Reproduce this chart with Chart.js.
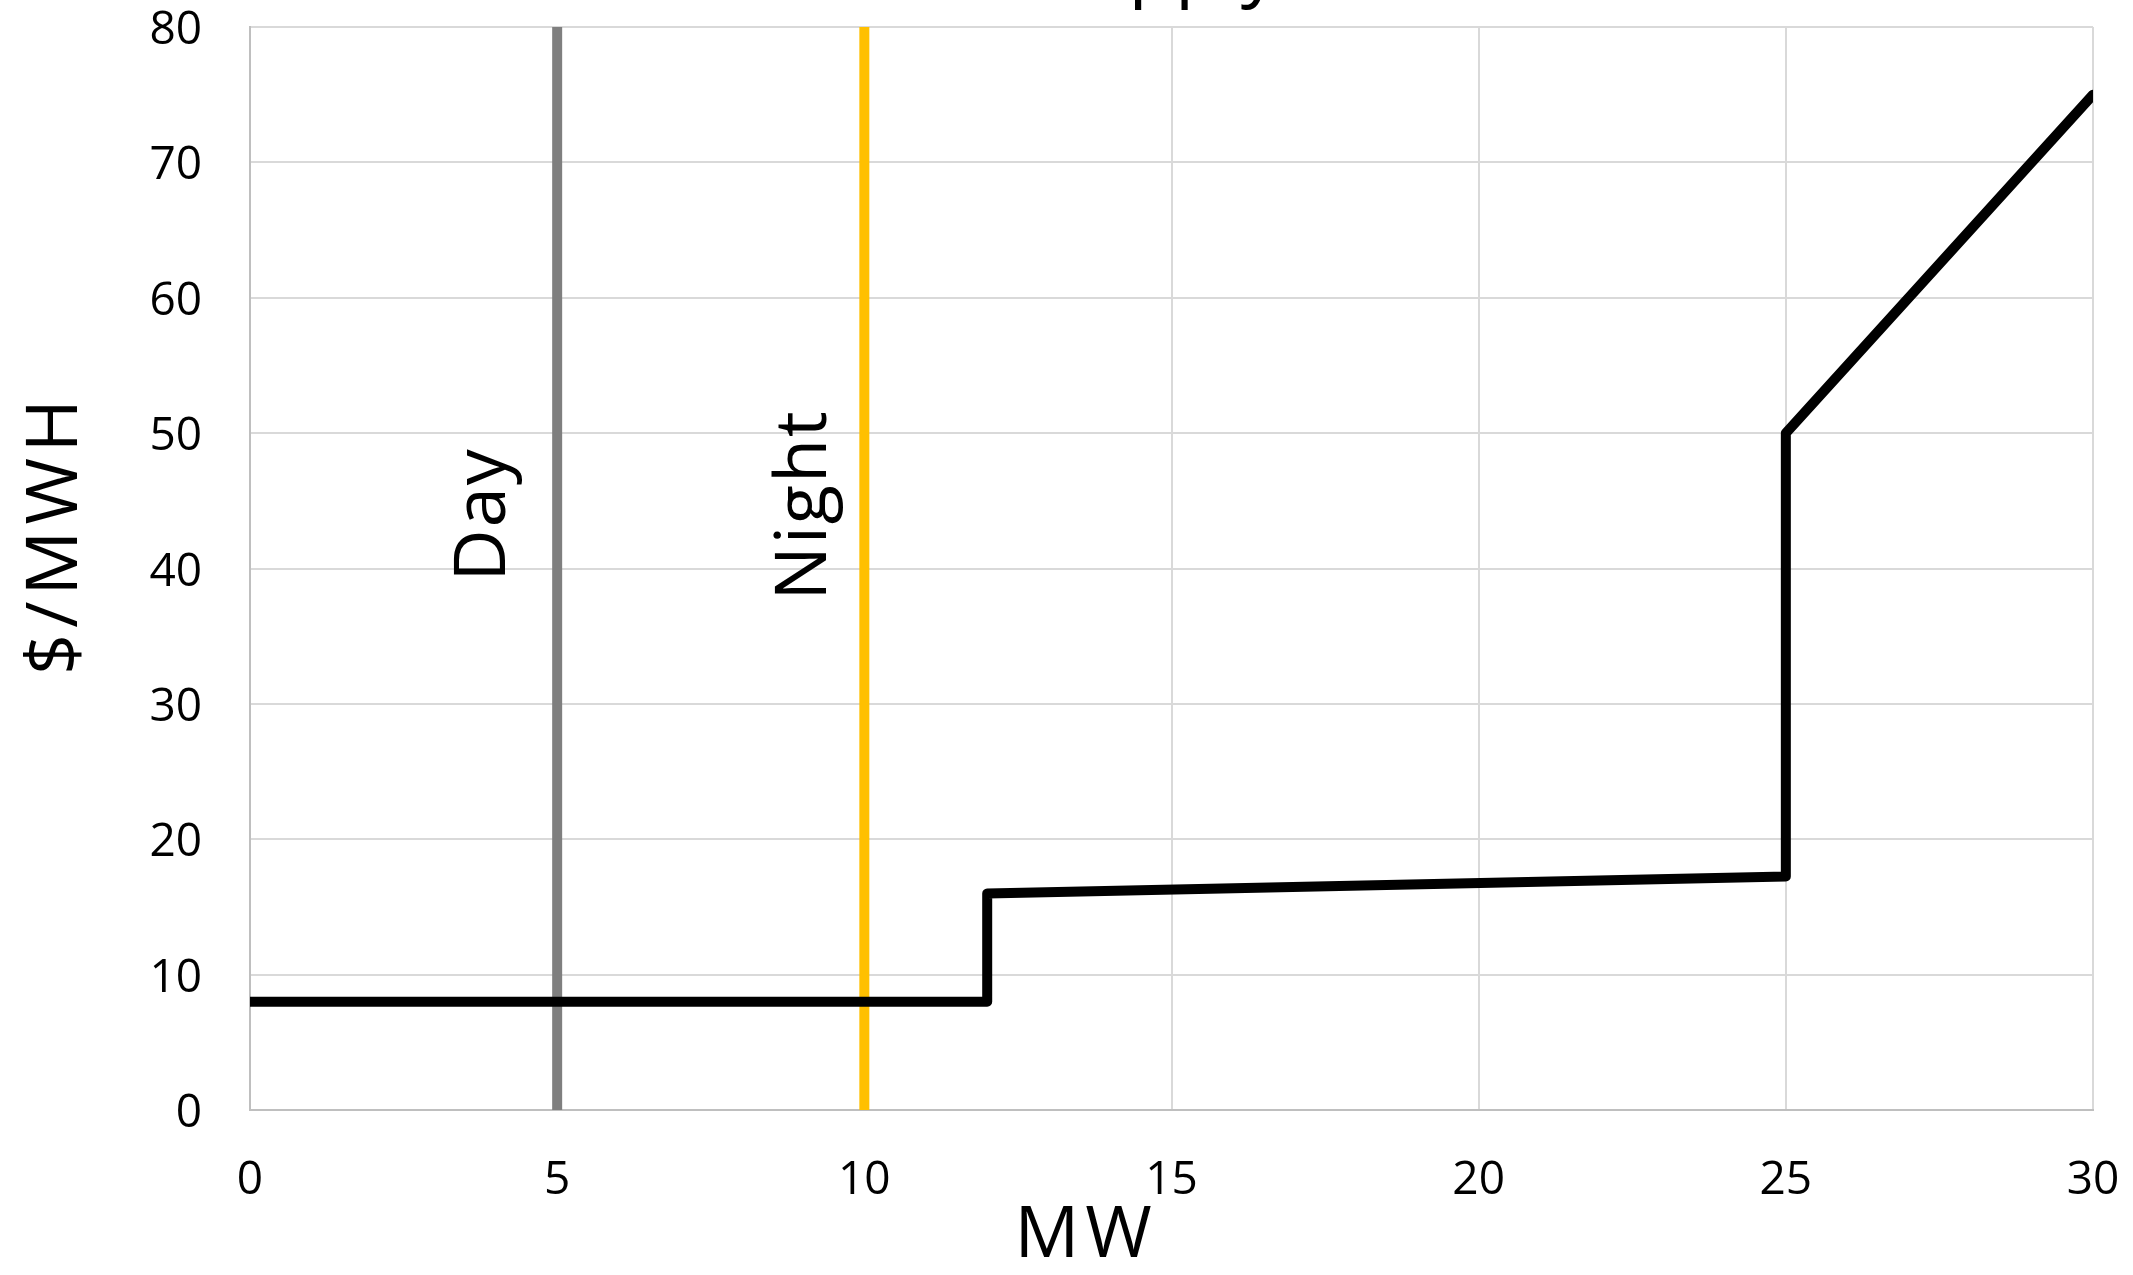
<!DOCTYPE html>
<html>
<head>
<meta charset="utf-8">
<script src="https://cdn.jsdelivr.net/npm/chart.js@4/dist/chart.umd.min.js"></script>
<style>
  html, body { margin: 0; padding: 0; background: #fff; }
  #wrap { width: 2133px; height: 1275px; position: relative; overflow: hidden; }
</style>
</head>
<body>
<div id="wrap"><canvas id="supplyChart" width="2133" height="1275"></canvas></div>
<script>
// supply curve: MW vs $/MWH
const supplyMW = [0, 12, 12, 25, 25, 30];
const supplyPrice = [8, 8, 16, 17.25, 50, 75];

// demand markers (vertical lines)
const markerNames = ['Day', 'Night'];
const markerMW = [5, 10];
const markerColors = ['#7f7f7f', '#ffc000'];

const xTicks = { min: 0, max: 30, step: 5 };
const yTicks = { min: 0, max: 80, step: 10 };

const chartTitle = 'Supply';
const xTitle = 'MW';
const yTitle = '$/MWH';

Chart.defaults.font.family = '"Open Sans", sans-serif';
Chart.defaults.color = '#000';

const BIG_FONT = '72px "Open Sans", sans-serif';
const CAP_HALF = 25; // half cap height of BIG_FONT

const toPoints = (xs, ys) => xs.map((x, i) => ({ x: x, y: ys[i] }));

const markerSets = markerNames.map((name, i) => ({
    label: name,
    data: [{ x: markerMW[i], y: yTicks.min }, { x: markerMW[i], y: yTicks.max }],
    borderColor: markerColors[i],
    borderWidth: 10,
    borderCapStyle: 'butt',
    pointRadius: 0,
    fill: false,
    order: 2
}));

// rotated labels beside each marker line: [gap from line, label centre in y units]
const markerLabelPos = { Day: [52, 44], Night: [38, 44.7] };

const markerLabels = {
    id: 'markerLabels',
    afterDatasetsDraw(chart) {
        const ctx = chart.ctx;
        const xs = chart.scales.x, ys = chart.scales.y;
        ctx.save();
        ctx.font = BIG_FONT;
        ctx.letterSpacing = '2px';
        ctx.fillStyle = '#000';
        ctx.textAlign = 'center';
        ctx.textBaseline = 'alphabetic';
        markerNames.forEach((name, i) => {
            const pos = markerLabelPos[name];
            const px = xs.getPixelForValue(markerMW[i]) - pos[0];
            const py = ys.getPixelForValue(pos[1]);
            ctx.save();
            ctx.translate(px, py);
            ctx.rotate(-Math.PI / 2);
            ctx.fillText(name, 0, 0);
            ctx.restore();
        });
        ctx.restore();
    }
};

// chart title (sits mostly above the top edge) and both axis titles
const titles = {
    id: 'titles',
    afterDraw(chart) {
        const ctx = chart.ctx;
        const area = chart.chartArea;
        ctx.save();
        ctx.fillStyle = '#000';
        ctx.textAlign = 'center';
        ctx.textBaseline = 'alphabetic';

        ctx.font = '76px "Open Sans", sans-serif';
        ctx.fillText(chartTitle, (area.left + area.right) / 2 - 12, -8);

        ctx.font = BIG_FONT;
        ctx.letterSpacing = '6px';
        ctx.fillText(xTitle, area.left + 836, 1232 + CAP_HALF);

        ctx.translate(52 + CAP_HALF, area.top + 507);
        ctx.rotate(-Math.PI / 2);
        ctx.fillText(yTitle, 0, 0);
        ctx.restore();
    }
};

const ctx = document.getElementById('supplyChart').getContext('2d');
new Chart(ctx, {
    type: 'line',
    data: {
        datasets: [
            ...markerSets,
            {
                label: 'Supply',
                data: toPoints(supplyMW, supplyPrice),
                borderColor: '#000',
                borderWidth: 10,
                borderJoinStyle: 'round',
                borderCapStyle: 'round',
                pointRadius: 0,
                fill: false,
                tension: 0,
                order: 1
            }
        ]
    },
    options: {
        responsive: false,
        animation: false,
        layout: { padding: { top: 27, right: 40, left: 0, bottom: 0 } },
        plugins: {
            legend: { display: false },
            tooltip: { enabled: false },
            title: { display: false }
        },
        scales: {
            x: {
                type: 'linear',
                min: xTicks.min,
                max: xTicks.max,
                ticks: { stepSize: xTicks.step, font: { size: 46 }, padding: 43, color: '#000' },
                grid: { color: '#d9d9d9', lineWidth: 2, drawTicks: false },
                border: { color: '#bfbfbf', width: 2 },
                afterFit(scale) {
                    scale.height = 165;
                    scale.paddingLeft = 0;
                    scale.paddingRight = 0;
                }
            },
            y: {
                type: 'linear',
                min: yTicks.min,
                max: yTicks.max,
                ticks: { stepSize: yTicks.step, font: { size: 46 }, padding: 48, labelOffset: 4, color: '#000' },
                grid: { color: '#d9d9d9', lineWidth: 2, drawTicks: false },
                border: { color: '#bfbfbf', width: 2 },
                afterFit(scale) {
                    scale.width = 250;
                    scale.paddingTop = 0;
                    scale.paddingBottom = 0;
                }
            }
        }
    },
    plugins: [markerLabels, titles]
});
</script>
</body>
</html>
